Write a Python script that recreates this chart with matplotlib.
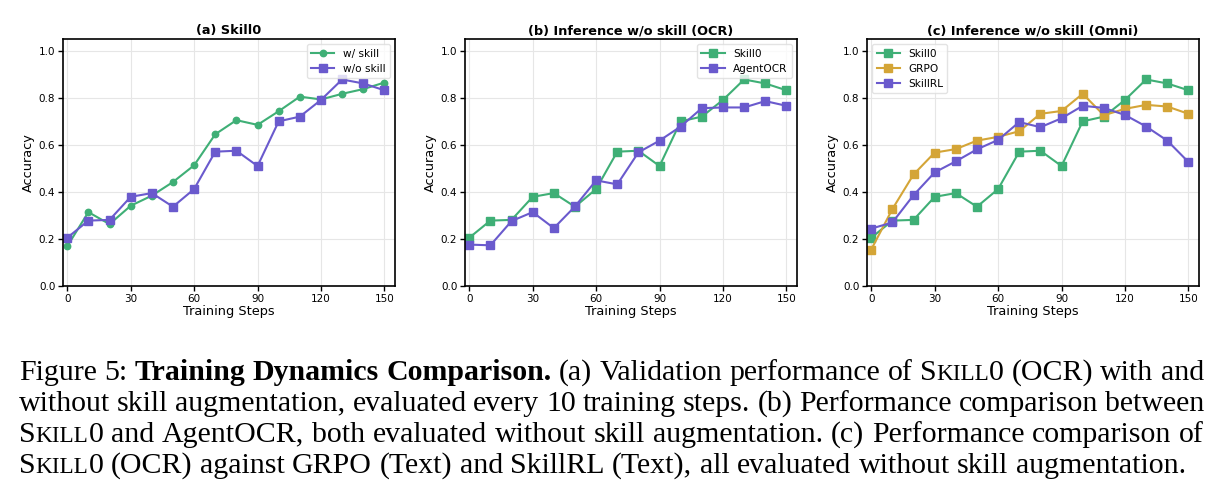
import numpy as np
import matplotlib
matplotlib.use('Agg')
import matplotlib.pyplot as plt

# ---- data ----
steps = np.arange(0, 151, 10)
w_skill = [0.169, 0.314, 0.263, 0.341, 0.384, 0.442, 0.513, 0.645, 0.705, 0.685,
           0.743, 0.805, 0.793, 0.817, 0.837, 0.865]
skill0 = [0.205, 0.278, 0.281, 0.379, 0.395, 0.337, 0.412, 0.571, 0.575, 0.510,
          0.700, 0.720, 0.791, 0.878, 0.861, 0.832]
agentocr = [0.176, 0.173, 0.276, 0.314, 0.246, 0.338, 0.449, 0.432, 0.568, 0.618,
            0.678, 0.756, 0.759, 0.759, 0.786, 0.766]
grpo = [0.155, 0.327, 0.474, 0.567, 0.582, 0.618, 0.634, 0.658, 0.732, 0.744,
        0.817, 0.726, 0.753, 0.770, 0.763, 0.732]
skillrl = [0.244, 0.270, 0.386, 0.483, 0.530, 0.581, 0.621, 0.697, 0.675, 0.713,
           0.766, 0.757, 0.727, 0.678, 0.618, 0.527]

titles = ['(a) Skill0', '(b) Inference w/o skill (OCR)', '(c) Inference w/o skill (Omni)']
xticks = [0, 30, 60, 90, 120, 150]
yticks = [0.0, 0.2, 0.4, 0.6, 0.8, 1.0]

caption_lines = [
    "Figure 5: *Training *Dynamics *Comparison. (a) Validation performance of ^SKILL0 (OCR) with and",
    "without skill augmentation, evaluated every 10 training steps. (b) Performance comparison between",
    "^SKILL0 and AgentOCR, both evaluated without skill augmentation. (c) Performance comparison of",
    "^SKILL0 (OCR) against GRPO (Text) and SkillRL (Text), all evaluated without skill augmentation.",
]

GREEN = '#3FAF76'
PURPLE = '#6A5ACD'
GOLD = '#D4A537'

W, H = 1222, 500
DPI = 100

plt.rcParams['font.family'] = ['DejaVu Sans']

fig = plt.figure(figsize=(W / DPI, H / DPI), dpi=DPI)

lefts = [63, 465, 867]
axes = []
for i, l in enumerate(lefts):
    ax = fig.add_axes([l / W, 214 / H, 332 / W, 247 / H])
    axes.append(ax)

series = [
    [(w_skill, 'w/ skill', GREEN, 'o'), (skill0, 'w/o skill', PURPLE, 's')],
    [(skill0, 'Skill0', GREEN, 's'), (agentocr, 'AgentOCR', PURPLE, 's')],
    [(skill0, 'Skill0', GREEN, 's'), (grpo, 'GRPO', GOLD, 's'), (skillrl, 'SkillRL', PURPLE, 's')],
]
legend_locs = ['upper right', 'upper right', 'upper left']

for ax, ser, title, loc in zip(axes, series, titles, legend_locs):
    for vals, lab, col, mk in ser:
        ms = 4.6 if mk == 'o' else 5.2
        ax.plot(steps, vals, color=col, marker=mk, markersize=ms, linewidth=1.5, label=lab)
    ax.set_xlim(-2, 155)
    ax.set_ylim(0, 1.05)
    ax.set_xticks(xticks)
    ax.set_yticks(yticks)
    ax.grid(True, color='#e6e6e6', linewidth=0.8)
    ax.set_axisbelow(True)
    ax.tick_params(direction='out', length=3.5, width=1, labelsize=7.5, pad=2)
    for s in ax.spines.values():
        s.set_linewidth(1.2)
    ax.set_xlabel('Training Steps', fontsize=9.3, labelpad=1)
    ax.set_ylabel('Accuracy', fontsize=9.3, labelpad=3)
    ax.set_title(title, fontsize=9.3, fontweight='bold', pad=3.5)
    ax.legend(loc=loc, fontsize=7.6, handlelength=2.2, framealpha=0.8, edgecolor='#dddddd')

# ---- caption, drawn word by word so it can be justified ----
renderer = fig.canvas.get_renderer()
fs = 21.5
cap_left, cap_right = 19, 1204
baselines = [380, 411, 442, 473]
space = fs * 0.25 * DPI / 72


def word_runs(w):
    if w.startswith('*'):
        return [(w[1:], 'bold', fs)]
    if w.startswith('^'):
        w = w[1:]
        runs = [(w[0], 'normal', fs)]
        for ch in w[1:]:
            size = fs * 0.78 if ch.isalpha() else fs
            if runs[-1][2] == size and len(runs) > 1:
                runs[-1] = (runs[-1][0] + ch, 'normal', size)
            else:
                runs.append((ch, 'normal', size))
        return runs
    return [(w, 'normal', fs)]


for i, line in enumerate(caption_lines):
    y = 1 - baselines[i] / H
    pieces = []
    for w in line.split(' '):
        texts, widths = [], []
        for s, wt, size in word_runs(w):
            t = fig.text(0, y, s, fontsize=size, fontweight=wt,
                         family='Liberation Serif', va='baseline', ha='left')
            texts.append(t)
            widths.append(t.get_window_extent(renderer).width)
        pieces.append((texts, widths))
    total = sum(sum(ws) for _, ws in pieces)
    if i < len(caption_lines) - 1:
        gap = (cap_right - cap_left - total) / (len(pieces) - 1)
    else:
        gap = space
    x = cap_left
    for texts, ws in pieces:
        for t, w in zip(texts, ws):
            t.set_x(x / W)
            x += w
        x += gap

fig.savefig('out.png', dpi=DPI)
